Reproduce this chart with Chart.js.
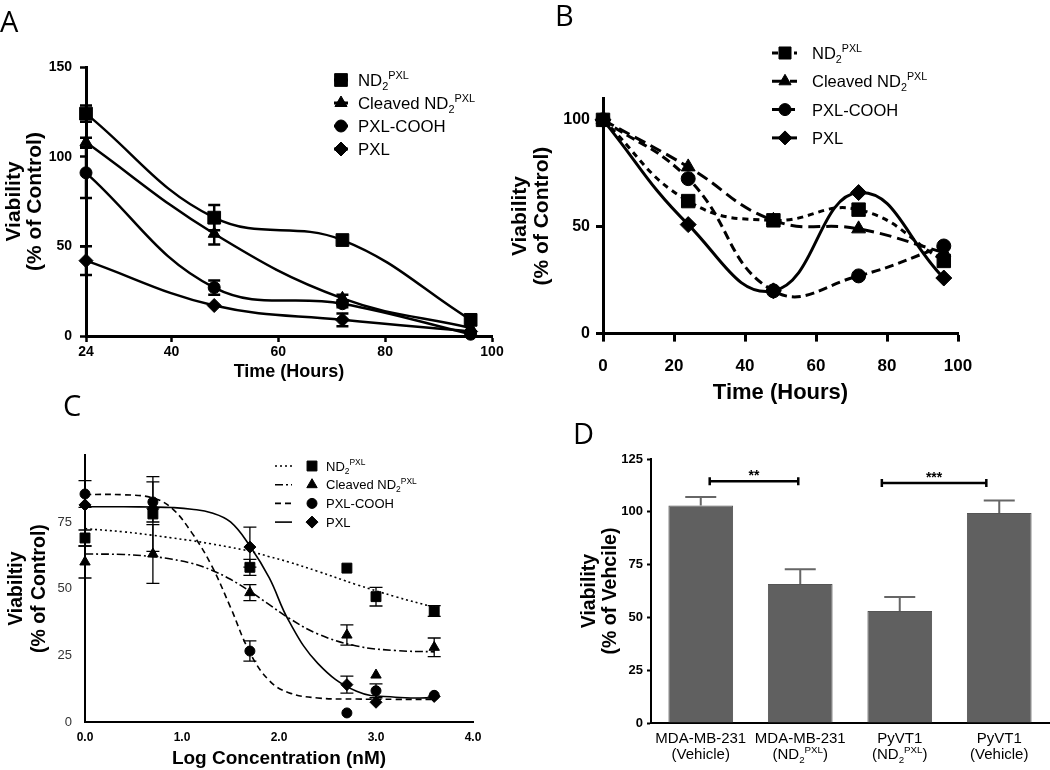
<!DOCTYPE html>
<html>
<head>
<meta charset="utf-8">
<script src="https://cdn.jsdelivr.net/npm/chart.js@4.4.1/dist/chart.umd.min.js"></script>
<style>
  body { margin: 0; background: #fff; }
  #wrap { position: relative; width: 1050px; height: 770px; overflow: hidden; }
  canvas { position: absolute; left: 0; top: 0; }
  .tag { position: absolute; font-family: "Open Sans", sans-serif; font-size: 29px; line-height: 1; color: #000; }
</style>
</head>
<body>
<div id="wrap">
  <canvas id="chartA" width="1050" height="770"></canvas>
  <canvas id="chartB" width="1050" height="770"></canvas>
  <canvas id="chartC" width="1050" height="770"></canvas>
  <canvas id="chartD" width="1050" height="770"></canvas>
  <div class="tag" style="left:0px;top:6px">A</div>
  <div class="tag" style="left:555px;top:0px">B</div>
  <div class="tag" style="left:63px;top:390px">C</div>
  <div class="tag" style="left:573px;top:418px">D</div>
</div>
<script>
/* ------------------------------
   DATA
--------------------------------*/

const seriesNames = ["ND_{2}^{PXL}", "Cleaved ND_{2}^{PXL}", "PXL-COOH", "PXL"];

// A - viability vs time (24-96 h)
const timeA = [24, 48, 72, 96];
const aSquare = [124, 66, 53.5, 9];
const aTriangle = [108, 57, 21, 4.5];
const aCircle = [91, 27, 18, 1];
const aDiamond = [42, 17, 9, 2.5];
const aSquareErr = [4.5, 7, 0, 0];
const aTriangleErr = [2.5, 6, 2, 0];
const aCircleErr = [14, 4, 2, 0];
const aDiamondErr = [8, 0, 3.5, 0];
const ticksAx = [24, 40, 60, 80, 100];
const ticksAy = [0, 50, 100, 150];

// B - viability vs time (0-96 h)
const timeB = [0, 24, 48, 72, 96];
const bSquare = [100, 62, 53, 58, 34];
const bTriangle = [100, 78, 53, 49, 38];
const bCircle = [100, 72.5, 20, 27, 41];
const bDiamond = [100, 51, 20, 66, 26];
const ticksBx = [0, 20, 40, 60, 80, 100];
const ticksBy = [0, 50, 100];

// C - dose response
const logConc = [0, 0.7, 1.7, 2.7, 3.0, 3.6];
const cSquare = [69, 78, 58, 57.7, 47, 41.6];
const cTriangle = [60, 63, 48.5, 32.6, 17.6, 28];
const cCircle = [85.5, 82.5, 26.6, 3.4, 11.7, 10];
const cDiamond = [81.4, 80, 65.6, 14, 7.4, 9.6];
const cSquareErr = [3, 14, 3, 0, 3.5, 2];
const cTriangleErr = [6, 11, 3, 3.8, 0, 3.5];
const cCircleErr = [5, 7.5, 3.8, 0, 2.6, 0];
const cDiamondErr = [0, 0, 7.5, 3.2, 0, 0];
// fitted curves
const fitX = [0, 0.4, 0.7, 0.9, 1.1, 1.3, 1.5, 1.7, 1.9, 2.1, 2.4, 2.8, 3.2, 3.6];
const fitSquare = [72.5, 71.3, 70, 69, 68, 66.8, 65.5, 64, 62, 60, 56.5, 51.5, 47, 43];
const fitTriangle = [63, 62.8, 62, 61, 59.5, 57, 53.5, 49, 44, 39, 33, 28.5, 26.8, 26.3];
const fitCircle = [85.3, 85.2, 84, 80, 71, 59, 43, 26, 15.5, 11, 9, 8.6, 8.5, 8.5];
const fitDiamond = [80.7, 80.7, 80.6, 80.4, 79.8, 78.5, 75, 66, 54, 38, 22, 11.5, 9.3, 9];

// D - bars
const cellLabels = [
  ["MDA-MB-231", "(Vehicle)"],
  ["MDA-MB-231", "(ND_{2}^{PXL})"],
  ["PyVT1", "(ND_{2}^{PXL})"],
  ["PyVT1", "(Vehicle)"]
];
const dValues = [103, 65.8, 53, 99.4];
const dErr = [4, 7, 6.7, 6];
const sigFrom = [0.09, 1.82];
const sigTo = [0.98, 2.87];
const sigLevel = [114.5, 113.6];
const sigText = ["**", "***"];

/* ------------------------------
   HELPERS
--------------------------------*/

const FONT = '"Liberation Sans", Arial, sans-serif';
Chart.defaults.font.family = FONT;
Chart.defaults.color = "#000";

function pts(xs, ys) {
    return xs.map((x, i) => ({ x: x, y: ys[i] }));
}

function area(L, T, R, B, yW, xH) {
    return { left: L - yW, top: T, right: 1050 - R, bottom: 770 - B - xH };
}

function boxFit(size) {
    return function (scale) {
        if (scale.isHorizontal()) scale.height = size; else scale.width = size;
    };
}

function fixTicks(list) {
    return function (scale) { scale.ticks = list.map(v => ({ value: v })); };
}

function richParts(s) {
    const parts = [];
    const re = /_\{([^}]*)\}|\^\{([^}]*)\}|([^_^]+)/g;
    let m;
    while ((m = re.exec(s))) {
        if (m[1] !== undefined) parts.push({ t: m[1], k: "sub" });
        else if (m[2] !== undefined) parts.push({ t: m[2], k: "sup" });
        else parts.push({ t: m[3], k: "n" });
    }
    return parts;
}

function drawRich(ctx, s, x, y, size, weight, align) {
    const parts = richParts(s);
    const fontFor = k => weight + " " + (k === "n" ? size : size * 0.65) + "px " + FONT;
    let w = 0;
    parts.forEach(p => { ctx.font = fontFor(p.k); p.w = ctx.measureText(p.t).width; w += p.w; });
    let cx = align === "center" ? x - w / 2 : x;
    const base = y + size * 0.36;
    ctx.textAlign = "left";
    ctx.textBaseline = "alphabetic";
    parts.forEach(p => {
        ctx.font = fontFor(p.k);
        const dy = p.k === "sub" ? size * 0.22 : (p.k === "sup" ? -size * 0.42 : 0);
        ctx.fillText(p.t, cx, base + dy);
        cx += p.w;
    });
}

function errorBars(cfg) {
    return {
        id: "errorBars",
        afterDatasetsDraw(chart) {
            const ctx = chart.ctx, yS = chart.scales.y;
            ctx.save();
            ctx.strokeStyle = cfg.color;
            ctx.lineWidth = cfg.width;
            chart.data.datasets.forEach((ds, di) => {
                if (!ds.errs) return;
                const meta = chart.getDatasetMeta(di);
                ds.errs.forEach((e, i) => {
                    if (!e) return;
                    const raw = ds.data[i];
                    const v = typeof raw === "number" ? raw : raw.y;
                    const x = meta.data[i].x;
                    const top = yS.getPixelForValue(v + e);
                    const bot = yS.getPixelForValue(cfg.upOnly ? v : v - e);
                    const h = cfg.cap / 2;
                    ctx.beginPath();
                    ctx.moveTo(x, bot); ctx.lineTo(x, top);
                    ctx.moveTo(x - h, top); ctx.lineTo(x + h, top);
                    if (!cfg.upOnly) { ctx.moveTo(x - h, bot); ctx.lineTo(x + h, bot); }
                    ctx.stroke();
                });
            });
            ctx.restore();
        }
    };
}

function richLegend(cfg) {
    return {
        id: "richLegend",
        afterDraw(chart) {
            const ctx = chart.ctx;
            cfg.items.forEach((it, i) => {
                const y = cfg.y + i * cfg.rowH;
                ctx.save();
                ctx.strokeStyle = "#000";
                ctx.fillStyle = "#000";
                ctx.lineWidth = cfg.lineWidth;
                ctx.setLineDash(it.dash || []);
                ctx.beginPath();
                ctx.moveTo(cfg.lineX1, y); ctx.lineTo(cfg.lineX2, y);
                ctx.stroke();
                ctx.setLineDash([]);
                ctx.lineWidth = 1;
                Chart.helpers.drawPoint(ctx, { pointStyle: it.pointStyle, radius: it.radius, rotation: 0, borderWidth: 1 }, cfg.markerX, y);
                drawRich(ctx, it.text, cfg.textX, y, cfg.size, "normal", "left");
                ctx.restore();
            });
        }
    };
}

function axisFont(size, bold) {
    return { family: FONT, size: size, weight: bold ? "bold" : "normal" };
}

const marks = ["rect", "triangle", "circle", "rectRot"];

/* ------------------------------
   PANEL A
--------------------------------*/

const radiiA = [9, 7, 6, 7];
const valsA = [aSquare, aTriangle, aCircle, aDiamond];
const errsA = [aSquareErr, aTriangleErr, aCircleErr, aDiamondErr];

new Chart(document.getElementById("chartA"), {
    type: "scatter",
    data: {
        datasets: valsA.map((v, i) => ({
            label: seriesNames[i],
            data: pts(timeA, v),
            errs: errsA[i],
            showLine: true,
            tension: 0.4,
            borderColor: "#000",
            backgroundColor: "#000",
            borderWidth: 2.5,
            pointStyle: marks[i],
            pointRadius: radiiA[i],
            pointBorderWidth: 1,
            clip: false
        }))
    },
    options: {
        responsive: false, animation: false, events: [],
        layout: { padding: area(86, 67, 492, 336, 86, 50) },
        plugins: { legend: { display: false }, tooltip: { enabled: false } },
        scales: {
            x: {
                type: "linear", min: 24, max: 100,
                afterBuildTicks: fixTicks(ticksAx), afterFit: boxFit(50),
                grid: { drawOnChartArea: false, tickLength: 6, tickWidth: 2.5, tickColor: "#000" },
                border: { color: "#000", width: 3 },
                ticks: { font: axisFont(14, true), padding: 2, maxRotation: 0, autoSkip: false },
                title: { display: true, text: "Time (Hours)", font: axisFont(18, true), padding: { top: 0, bottom: 3 } }
            },
            y: {
                min: 0, max: 150,
                afterBuildTicks: fixTicks(ticksAy), afterFit: boxFit(86),
                grid: { drawOnChartArea: false, tickLength: 6, tickWidth: 2.5, tickColor: "#000" },
                border: { color: "#000", width: 3 },
                ticks: { font: axisFont(14, true), padding: 8 },
                title: { display: true, text: ["Viability", "(% of Control)"], font: { family: FONT, size: 21, weight: "bold", lineHeight: 1.0 }, padding: { top: 4, bottom: 0 } }
            }
        }
    },
    plugins: [
        errorBars({ color: "#000", width: 2.5, cap: 12 }),
        richLegend({
            y: 80, rowH: 23, lineX1: 334, lineX2: 348, lineWidth: 3, markerX: 341, textX: 358, size: 16.8,
            items: seriesNames.map((t, i) => ({ text: t, pointStyle: marks[i], radius: radiiA[i] }))
        })
    ]
});

/* ------------------------------
   PANEL B
--------------------------------*/

const radiiB = [9.5, 8, 7, 8];
const dashB = [[6, 5], [12, 6], [9, 5], []];
const valsB = [bSquare, bTriangle, bCircle, bDiamond];

new Chart(document.getElementById("chartB"), {
    type: "scatter",
    data: {
        datasets: valsB.map((v, i) => ({
            label: seriesNames[i],
            data: pts(timeB, v),
            showLine: true,
            tension: 0.45,
            borderColor: "#000",
            backgroundColor: "#000",
            borderWidth: 3,
            borderDash: dashB[i],
            pointStyle: marks[i],
            pointRadius: radiiB[i],
            pointBorderWidth: 1,
            clip: false
        }))
    },
    options: {
        responsive: false, animation: false, events: [],
        layout: { padding: area(603, 98.5, 958, 333.6, 94, 75) },
        plugins: { legend: { display: false }, tooltip: { enabled: false } },
        scales: {
            x: {
                type: "linear", min: 0, max: 100,
                afterBuildTicks: fixTicks(ticksBx), afterFit: boxFit(75),
                grid: { drawOnChartArea: false, tickLength: 8, tickWidth: 3, tickColor: "#000" },
                border: { color: "#000", width: 3 },
                ticks: { font: axisFont(17, true), padding: 15, maxRotation: 0, autoSkip: false },
                title: { display: true, text: "Time (Hours)", font: axisFont(22, true), padding: { top: 0, bottom: 2 } }
            },
            y: {
                min: 0, max: 110,
                afterBuildTicks: fixTicks(ticksBy), afterFit: boxFit(94),
                grid: { drawOnChartArea: false, tickLength: 7, tickWidth: 3, tickColor: "#000" },
                border: { color: "#000", width: 3 },
                ticks: { font: axisFont(16, true), padding: 6 },
                title: { display: true, text: ["Viability", "(% of Control)"], font: { family: FONT, size: 21, weight: "bold", lineHeight: 1.05 }, padding: { top: 0, bottom: 0 } }
            }
        }
    },
    plugins: [
        richLegend({
            y: 53, rowH: 28.3, lineX1: 772, lineX2: 797, lineWidth: 3, markerX: 785, textX: 812, size: 16.5,
            items: seriesNames.map((t, i) => ({ text: t, pointStyle: marks[i], radius: radiiB[i] - 1, dash: dashB[i] }))
        })
    ]
});

/* ------------------------------
   PANEL C
--------------------------------*/

const radiiC = [7, 6, 5, 6];
const dashC = [[2, 3], [8, 3, 2, 3], [6, 4], []];
const valsC = [cSquare, cTriangle, cCircle, cDiamond];
const errsC = [cSquareErr, cTriangleErr, cCircleErr, cDiamondErr];
const fitsC = [fitSquare, fitTriangle, fitCircle, fitDiamond];

const curveSets = fitsC.map((f, i) => ({
    label: seriesNames[i] + " fit",
    data: pts(fitX, f),
    showLine: true,
    tension: 0.4,
    borderColor: "#000",
    borderWidth: 1.6,
    borderDash: dashC[i],
    pointRadius: 0,
    clip: false
}));
const pointSets = valsC.map((v, i) => ({
    label: seriesNames[i],
    data: pts(logConc, v),
    errs: errsC[i],
    showLine: false,
    backgroundColor: "#000",
    borderColor: "#000",
    pointStyle: marks[i],
    pointRadius: radiiC[i],
    pointBorderWidth: 1,
    clip: false
}));

new Chart(document.getElementById("chartC"), {
    type: "scatter",
    data: { datasets: curveSets.concat(pointSets) },
    options: {
        responsive: false, animation: false, events: [],
        layout: { padding: area(85, 455.3, 473, 722, 85, 48) },
        plugins: { legend: { display: false }, tooltip: { enabled: false } },
        scales: {
            x: {
                type: "linear", min: 0, max: 4,
                afterFit: boxFit(48),
                grid: { drawOnChartArea: false, drawTicks: false },
                border: { color: "#000", width: 2 },
                ticks: { stepSize: 1, font: axisFont(12, true), padding: 8, maxRotation: 0, callback: v => v.toFixed(1) },
                title: { display: true, text: "Log Concentration (nM)", font: axisFont(19, true), padding: { top: 0, bottom: 0 } }
            },
            y: {
                min: 0, max: 100,
                afterFit: boxFit(85),
                grid: { drawOnChartArea: false, drawTicks: false },
                border: { color: "#000", width: 2 },
                ticks: { stepSize: 25, font: axisFont(13, false), color: "#333", padding: 13, callback: v => (v === 100 ? "" : v) },
                title: { display: true, text: ["Viabiltiy", "(% of Control)"], font: { family: FONT, size: 19.5, weight: "bold", lineHeight: 1.18 }, padding: { top: 5.5, bottom: 0 } }
            }
        }
    },
    plugins: [
        errorBars({ color: "#000", width: 1.3, cap: 13 }),
        richLegend({
            y: 466, rowH: 18.7, lineX1: 275, lineX2: 292, lineWidth: 1.6, markerX: 312, textX: 326, size: 13,
            items: seriesNames.map((t, i) => ({ text: t, pointStyle: marks[i], radius: radiiC[i], dash: dashC[i] }))
        })
    ]
});

/* ------------------------------
   PANEL D
--------------------------------*/

const cellLabelsPlugin = {
    id: "cellLabels",
    afterDraw(chart) {
        const ctx = chart.ctx, xS = chart.scales.x;
        ctx.save();
        ctx.fillStyle = "#000";
        cellLabels.forEach((lines, i) => {
            const x = xS.getPixelForValue(i);
            drawRich(ctx, lines[0], x, 738, 15, "normal", "center");
            drawRich(ctx, lines[1], x, 754, 15, "normal", "center");
        });
        ctx.restore();
    }
};

const sigPlugin = {
    id: "sigBrackets",
    afterDraw(chart) {
        const ctx = chart.ctx, xS = chart.scales.x, yS = chart.scales.y;
        ctx.save();
        ctx.strokeStyle = "#000";
        ctx.fillStyle = "#000";
        ctx.lineWidth = 2.5;
        sigText.forEach((txt, i) => {
            const x1 = xS.getPixelForValue(sigFrom[i]);
            const x2 = xS.getPixelForValue(sigTo[i]);
            const y = yS.getPixelForValue(sigLevel[i]);
            ctx.beginPath();
            ctx.moveTo(x1, y); ctx.lineTo(x2, y);
            ctx.moveTo(x1, y - 4); ctx.lineTo(x1, y + 4);
            ctx.moveTo(x2, y - 4); ctx.lineTo(x2, y + 4);
            ctx.stroke();
            ctx.font = "bold 14px " + FONT;
            ctx.textAlign = "center";
            ctx.textBaseline = "alphabetic";
            ctx.fillText(txt, (x1 + x2) / 2, y - 1);
        });
        ctx.restore();
    }
};

new Chart(document.getElementById("chartD"), {
    type: "bar",
    data: {
        labels: cellLabels.map(l => l.join(" ")),
        datasets: [{
            label: "Viability",
            data: dValues,
            errs: dErr,
            backgroundColor: "#606060",
            borderColor: "#555",
            borderWidth: 1,
            barPercentage: 0.65,
            categoryPercentage: 1.0
        }]
    },
    options: {
        responsive: false, animation: false, events: [],
        layout: { padding: area(651, 459, 1049, 723, 72, 45) },
        plugins: { legend: { display: false }, tooltip: { enabled: false } },
        scales: {
            x: {
                afterFit: boxFit(45),
                grid: { display: false },
                border: { color: "#000", width: 2 },
                ticks: { display: false }
            },
            y: {
                min: 0, max: 125,
                afterFit: boxFit(72),
                grid: { drawOnChartArea: false, tickLength: 4, tickWidth: 2, tickColor: "#000" },
                border: { color: "#000", width: 2 },
                ticks: { stepSize: 25, font: axisFont(13, true), padding: 4 },
                title: { display: true, text: ["Viability", "(% of Vehcile)"], font: { family: FONT, size: 19.5, weight: "bold", lineHeight: 1.08 }, padding: { top: 0, bottom: 0 } }
            }
        }
    },
    plugins: [errorBars({ color: "#666", width: 2, cap: 31, upOnly: true }), cellLabelsPlugin, sigPlugin]
});
</script>
</body>
</html>
